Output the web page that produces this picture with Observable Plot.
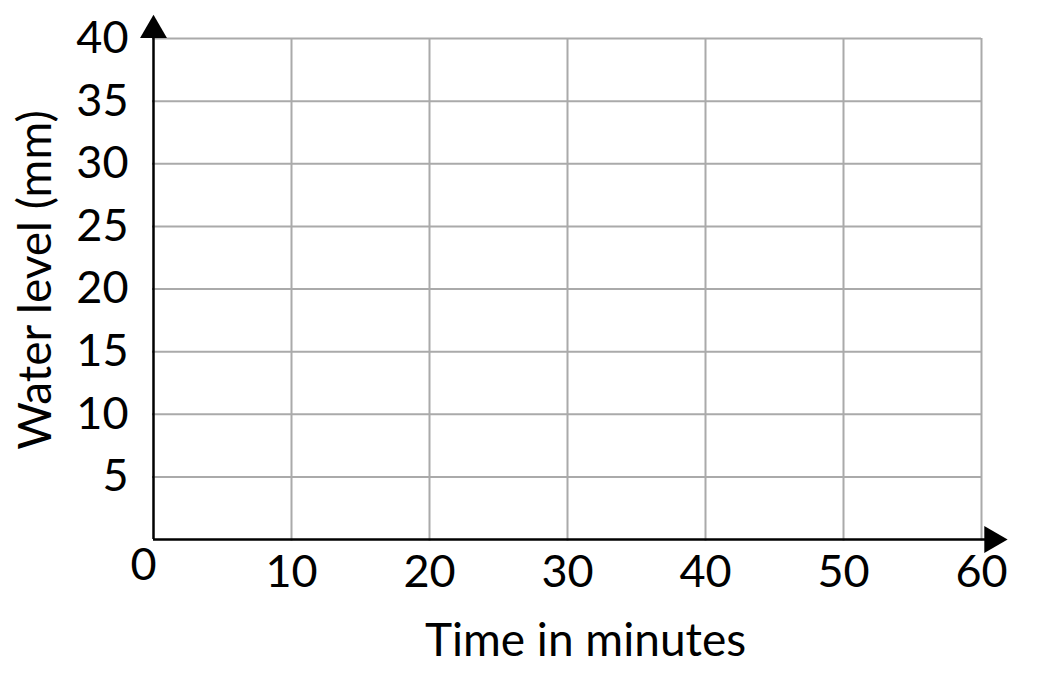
<!DOCTYPE html>
<html>
<head>
<meta charset="utf-8">
<script src="https://cdn.jsdelivr.net/npm/d3@7"></script>
<script src="https://cdn.jsdelivr.net/npm/@observablehq/plot@0.6"></script>
<style>
  html, body { margin: 0; padding: 0; background: #fff; }
  #chart svg { display: block; }
</style>
</head>
<body>
<div id="chart"></div>
<script>
// Data
const xTicks = [10, 20, 30, 40, 50, 60];
const yTicks = [5, 10, 15, 20, 25, 30, 35, 40];
const xDomain = [0, 60];
const yDomain = [0, 40];
const originLabel = ["0"];
const xLabel = "Time in minutes";
const yLabel = "Water level (mm)";
const xAxisEnd = 61.2;   // where x axis line (arrow base) ends
const yAxisEnd = 40.5;

const font = "Lato, 'Open Sans', sans-serif";

const chart = Plot.plot({
  width: 1048,
  height: 681,
  marginLeft: 153,
  marginRight: 67,
  marginTop: 38,
  marginBottom: 142,
  style: { fontFamily: font, background: "#fff", color: "#000" },
  x: { domain: xDomain },
  y: { domain: yDomain },
  marks: [
    // grid
    Plot.ruleX(xTicks, { y1: 0, y2: 40, stroke: "#aaaaaa", strokeWidth: 2 }),
    Plot.ruleY(yTicks, { x1: 0, x2: 60, stroke: "#aaaaaa", strokeWidth: 2 }),
    // small tick marks on axes
    Plot.ruleY(yTicks, { x1: -0.036, x2: 0.036, stroke: "#000", strokeWidth: 2 }),
    Plot.ruleX(xTicks, { y1: -0.1, y2: 0.0, stroke: "#000", strokeWidth: 2 }),
    // axis lines
    Plot.ruleX([0], { y1: 0, y2: yAxisEnd, stroke: "#000", strokeWidth: 2.5 }),
    Plot.ruleY([0], { x1: 0, x2: xAxisEnd, stroke: "#000", strokeWidth: 2.5 }),
    // arrowheads
    Plot.dot([0], { x: 0, y: yAxisEnd, symbol: "triangle", r: 10, fill: "#000", stroke: null, dy: -2 }),
    Plot.dot([0], { x: xAxisEnd, y: 0, symbol: "triangle", r: 10, fill: "#000", stroke: null, rotate: 90, dx: -6 }),
    // tick labels
    Plot.axisX({ ticks: xTicks, tickSize: 0, tickPadding: 16, fontSize: 45, label: null, fontFamily: font }),
    Plot.axisY({ ticks: yTicks, tickSize: 0, tickPadding: 25, fontSize: 45, label: null, fontFamily: font }),
    Plot.text(originLabel, { x: 0, y: 0, text: d => d, dx: -10, dy: 26, fontSize: 45, fill: "#000", fontFamily: font }),
    // axis titles
    Plot.text([xLabel], { frameAnchor: "bottom", text: d => d, dx: 18, dy: 116, fontSize: 46, fill: "#000", fontFamily: font }),
    Plot.text([yLabel], { frameAnchor: "left", text: d => d, dx: -117, dy: -9, rotate: -90, textAnchor: "middle", fontSize: 46, fill: "#000", fontFamily: font })
  ]
});
document.getElementById("chart").appendChild(chart);
</script>
</body>
</html>
